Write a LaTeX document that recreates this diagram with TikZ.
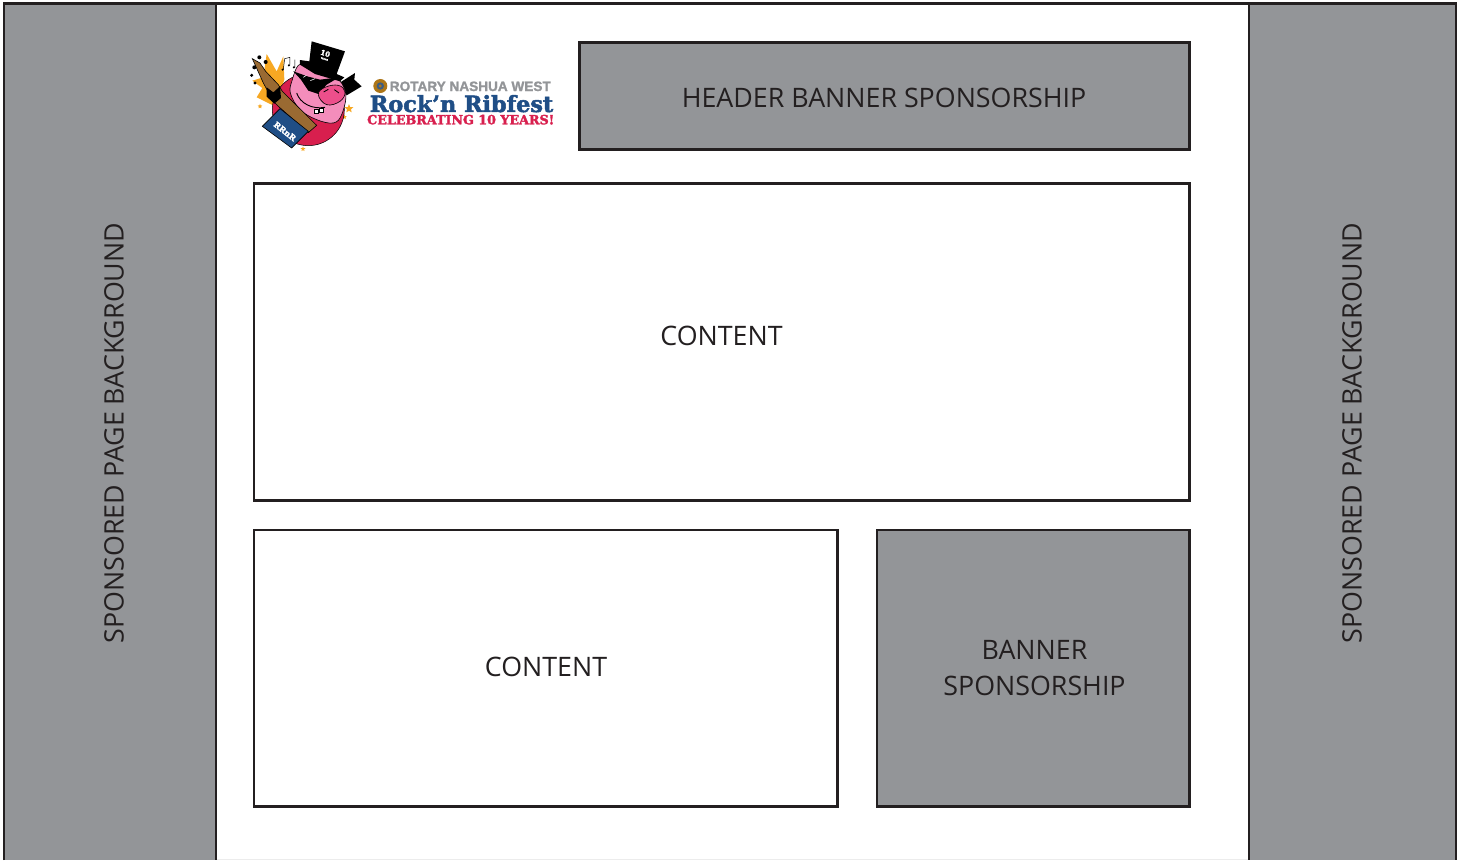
\documentclass[tikz,border=0pt]{standalone}
\usepackage{fontspec}
\usetikzlibrary{shapes.geometric}
\setmainfont{Open Sans}
\newfontfamily\slab[BoldFeatures={FakeBold=2.2}]{DejaVu Serif}
\newfontfamily\heavy[BoldFeatures={FakeBold=1.6}]{Liberation Sans}
\definecolor{panel}{HTML}{939598}
\definecolor{ink}{HTML}{231F20}
\definecolor{pigpink}{HTML}{F48DBB}
\definecolor{snoutpink}{HTML}{EC4F8B}
\definecolor{rosered}{HTML}{D81F4E}
\definecolor{navy}{HTML}{1F4E86}
\definecolor{wood}{HTML}{9A6A32}
\definecolor{starc}{HTML}{F7A823}
\tikzset{
 x=1pt,y=-1pt,
 frame/.style={draw=ink,line width=2.8pt},
 graybox/.style={frame,fill=panel},
 whitebox/.style={frame,fill=white},
 label/.style={text=ink,font=\fontsize{26.8}{36}\selectfont,inner sep=0pt,align=center},
 pigline/.style={draw=black,line width=0.6pt},
 spark/.style={star,star points=5,star point ratio=2.2,fill=starc,draw=none,inner sep=0pt},
}
\begin{document}
\begin{tikzpicture}
\useasboundingbox (0,0) rectangle (1457,860);
\fill[white] (0,0) rectangle (1457,860);
\fill[gray!15] (216,858.5) rectangle (1249,860);
\path[fill=panel] (4,3.5) rectangle (216,860);
\path[fill=panel] (1249,3.5) rectangle (1456,860);
\draw[frame] (4,860) -- (4,3.5) -- (1456,3.5) -- (1456,860);
\draw[frame] (216,3.5) -- (216,860);
\draw[frame] (1249,3.5) -- (1249,860);
\path[graybox] (579.5,42.5) rectangle (1189.7,149.7);
\path[whitebox] (254,183.5) rectangle (1189.7,500.7);
\path[whitebox] (254,530) rectangle (837.7,806.7);
\path[graybox] (877,530) rectangle (1189.7,806.7);
\node[label] (hdrtext) at (884,98) {HEADER BANNER SPONSORSHIP};
\node[label] (c1) at (721.5,336) {CONTENT};
\node[label] (c2) at (546,667) {CONTENT};
\node[label] (bn) at (1034.5,668) {BANNER\\SPONSORSHIP};
\node[label,rotate=90] (sl) at (114,433) {SPONSORED PAGE BACKGROUND};
\node[label,rotate=90] (sr) at (1352,433) {SPONSORED PAGE BACKGROUND};
% pig logo, in 3x crop coordinates
\begin{scope}[shift={(245,38)},x=0.3333pt,y=-0.3333pt]
\fill[starc] (35,178) -- (52,150) -- (22,128) -- (55,118) -- (65,48) -- (95,100) -- (115,55) -- (118,125) -- (90,205) -- cycle;
\fill[black] (43,58) circle (6) (62,72) circle (6) (28,88) circle (6) (20,112) circle (5) (30,135) circle (5);
\draw[black,line width=.5pt] (115,95) -- (119,62) -- (135,58) -- (135,80) (150,65) -- (150,88);
\fill[black] (113,95) circle (3.5) (132,82) circle (3.5) (147,88) circle (3.5);
\node[spark,minimum size=9pt] (s1) at (312,212) {};
\node[spark,minimum size=5pt] (s2) at (298,237) {};
\node[spark,minimum size=5pt] (s3) at (174,333) {};
\node[spark,minimum size=5pt] (s4) at (45,205) {};
\fill[rosered] (190,215) circle (108);
\draw[black,line width=.5pt] (190,215) circle (108);
\fill[black] (283,135) -- (330,105) -- (328,125) -- (350,145) -- (305,172) -- cycle;
\filldraw[fill=pigpink,pigline] plot[smooth cycle,tension=.6] coordinates {(160,82) (142,125) (136,165) (165,215) (215,245) (265,255) (290,230) (302,165) (268,112) (190,80)};
% guitar
\fill[wood,pigline] (22,62) -- (45,75) -- (62,100) -- (100,140) -- (112,160) -- (215,262) -- (190,284) -- (100,205) -- (85,190) -- (55,135) -- cycle;
\fill[black] (65,148) -- (85,163) -- (105,145) -- (108,180) -- (88,197) -- (65,176) -- cycle;
% banner
\fill[navy,pigline] (52,265) -- (105,212) -- (190,280) -- (140,330) -- cycle;
\node[font=\slab\bfseries\fontsize{8}{8}\selectfont,text=white,rotate=-38,inner sep=0pt] (rrnr) at (120,280) {RRnR};
% hat
\fill[black] (193,70) -- (200,10) -- (300,40) -- (275,108) -- (298,118) -- (285,130) -- (210,108) -- (165,80) -- (165,66) -- cycle;
\node[font=\slab\bfseries\fontsize{7}{7}\selectfont,text=white,rotate=-18,inner sep=0pt] (ten) at (241,46) {10};
\node[font=\heavy\bfseries\fontsize{2.2}{2.2}\selectfont,text=white,rotate=-18,inner sep=0pt] (yrs) at (238,63) {YEARS};
% glasses
\fill[black] (145,100) -- (190,116) -- (225,125) -- (282,118) -- (245,140) -- (220,168) -- (190,158) -- (168,125) -- cycle;
\draw[white,line width=.6pt] (196,128) -- (210,122) (175,118) -- (184,112);
% snout
\filldraw[fill=snoutpink,pigline] plot[smooth cycle,tension=.7] coordinates {(220,170) (240,148) (280,142) (300,162) (285,190) (245,200)};
\draw[black,line width=.8pt] (236,162) -- (250,154) (268,155) -- (282,165);
\draw[black,line width=.9pt] (155,165) .. controls (165,195) and (200,215) .. (240,208);
\filldraw[fill=white,pigline] (207,214) rectangle (219,226) (222,212) rectangle (235,223);
\end{scope}
% logo lettering
\begin{scope}[shift={(240,30)},x=0.3333pt,y=-0.3333pt]
\fill[starc!70!black] (421,168) circle (21);
\fill[navy!70!gray] (421,168) circle (11);
\fill[starc!70!black] (421,168) circle (5);
\node[font=\heavy\bfseries\fontsize{13.6}{13.6}\selectfont,text=panel,inner sep=0pt,anchor=west] (l1) at (449,169) {ROTARY NASHUA WEST};
\node[font=\slab\bfseries\fontsize{22.3}{22.3}\selectfont,text=navy,inner sep=0pt,anchor=west] (l2) at (389,221) {Rock’n Ribfest};
\node[font=\slab\bfseries\fontsize{12.7}{12.7}\selectfont,text=rosered,inner sep=0pt,anchor=west] (l3) at (381,269) {CELEBRATING 10 YEARS!};
\end{scope}
\end{tikzpicture}
\end{document}
